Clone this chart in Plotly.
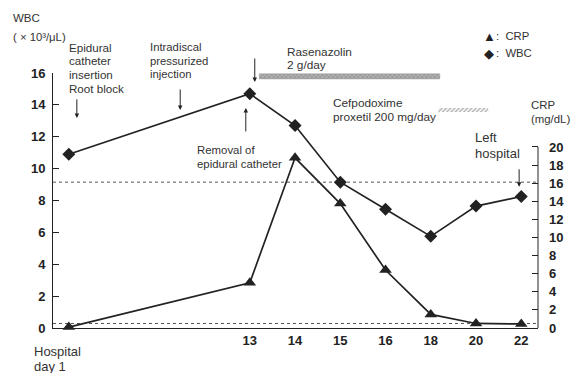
import plotly.graph_objects as go

# ---------------- data ----------------
days = ["1", "13", "14", "15", "16", "18", "20", "22"]
wbc = [10.9, 14.7, 12.7, 9.15, 7.45, 5.75, 7.65, 8.25]      # x10^3/uL (left axis)
crp = [0.1, 5.0, 18.8, 13.75, 6.4, 1.5, 0.5, 0.45]          # mg/dL (right axis)
wbc_ticks = [0, 2, 4, 6, 8, 10, 12, 14, 16]
crp_ticks = [0, 2, 4, 6, 8, 10, 12, 14, 16, 18, 20]
wbc_normal = 9.15
crp_normal = 0.5
# drug periods (in x-slot units) and bar heights (in WBC units)
drug_names = ["Rasenazolin", "Cefpodoxime"]
drug_start = [4.21, 8.17]
drug_end = [8.2, 9.27]
drug_low = [15.63, 13.56]
drug_high = [15.95, 13.81]

# ---------------- layout helpers ----------------
W, H = 576, 373
L, R, T, B = 53, 35, 73, 44.5
PW, PH = W - L - R, H - T - B
slots = [0] + [i + 3 for i in range(1, len(days))]
XR = [-0.35, 10.37]
CRP_TOP = 28.17

def px(x):
    return (x - L) / PW

def py(y):
    return (H - B - y) / PH

INK = "#222222"
TXT = "#333333"
FONT = "Liberation Sans, Arial, sans-serif"

fig = go.Figure()

# drug bars
fig.add_trace(go.Scatter(
    x=[drug_start[0], drug_end[0], drug_end[0], drug_start[0], drug_start[0]],
    y=[drug_low[0], drug_low[0], drug_high[0], drug_high[0], drug_low[0]],
    mode="lines", fill="toself", line=dict(color="#999999", width=0.5),
    fillpattern=dict(shape="x", size=3, solidity=0.4, fgcolor="#6a6a6a", bgcolor="#b0b0b0"),
    hoverinfo="skip", showlegend=False))
fig.add_trace(go.Scatter(
    x=[drug_start[1], drug_end[1], drug_end[1], drug_start[1], drug_start[1]],
    y=[drug_low[1], drug_low[1], drug_high[1], drug_high[1], drug_low[1]],
    mode="lines", fill="toself", line=dict(color="rgba(0,0,0,0)", width=0),
    fillpattern=dict(shape="/", size=3, solidity=0.45, fgcolor="#555555", bgcolor="white"),
    hoverinfo="skip", showlegend=False))

# normal range dotted lines
fig.add_trace(go.Scatter(x=XR, y=[wbc_normal, wbc_normal], mode="lines",
                         line=dict(color="#555555", width=1, dash="dot"),
                         hoverinfo="skip", showlegend=False))
fig.add_trace(go.Scatter(x=XR, y=[crp_normal, crp_normal], yaxis="y2", mode="lines",
                         line=dict(color="#555555", width=1, dash="dot"),
                         hoverinfo="skip", showlegend=False))

# series
fig.add_trace(go.Scatter(x=slots, y=wbc, mode="lines+markers", name="WBC",
                         line=dict(color=INK, width=1.7),
                         marker=dict(symbol="diamond", size=10, color=INK),
                         showlegend=False))
fig.add_trace(go.Scatter(x=slots, y=crp, yaxis="y2", mode="lines+markers", name="CRP",
                         line=dict(color=INK, width=1.7),
                         marker=dict(symbol="triangle-up", size=11, color=INK),
                         showlegend=False, cliponaxis=False))

# right axis line from 0 to 20
fig.add_shape(type="line", xref="paper", yref="y2", x0=1, x1=1, y0=0, y1=20,
              line=dict(color=INK, width=1))

ann = []

def text(x, y, s, size=11.5, anchor="left", color=TXT):
    ann.append(dict(x=px(x), y=py(y), xref="paper", yref="paper", text=s,
                    showarrow=False, xanchor=anchor, yanchor="middle", align="left",
                    borderpad=0, font=dict(family=FONT, size=size, color=color)))

def lines(x, y0, dy, rows, size):
    for i, s in enumerate(rows):
        text(x, y0 + i * dy, s, size)

def arrow(x, y_head, y_tail):
    ann.append(dict(x=px(x), y=py(y_head), xref="paper", yref="paper", text="",
                    showarrow=True, ax=0, ay=y_tail - y_head, arrowhead=2,
                    arrowsize=0.9, arrowwidth=1, arrowcolor=INK))

text(12, 18, "WBC", size=11.5)
text(12, 37, "( × 10³/μL)", size=11.3)
lines(68, 47, 13.7, ["Epidural", "catheter", "insertion", "Root block"], 11.6)
lines(150, 47, 13.5, ["Intradiscal", "pressurized", "injection"], 11.3)
lines(287, 51.7, 13.3, ["Rasenazolin", "2 g/day"], 11.8)
lines(334, 102.7, 14, ["Cefpodoxime", "proxetil 200 mg/day"], 11.8)
lines(197, 150, 14, ["Removal of", "epidural catheter"], 11.4)
lines(477, 138, 16, ["Left", "hospital"], 13)
lines(533, 105, 14, ["CRP", "(mg/dL)"], 11.4)
lines(33, 352, 15, ["Hospital", "day 1"], 13)

# legend keys
text(492, 36, "▲", size=13, anchor="center", color=INK)
text(492, 53, "◆", size=13, anchor="center", color=INK)
text(498, 36, ":\u00a0\u00a0CRP", size=11.3)
text(498, 53, ":\u00a0\u00a0WBC", size=11.3)

arrow(77, 118, 98)
arrow(181, 110, 88)
arrow(256, 82, 57)
arrow(247, 108, 133)
arrow(522, 187, 168)

TF = dict(family=FONT, size=13, color=INK)
fig.update_layout(
    width=W, height=H,
    margin=dict(l=L, r=R, t=T, b=B, pad=0),
    paper_bgcolor="white", plot_bgcolor="white",
    font=dict(family=FONT, size=11, color=INK),
    annotations=ann,
    xaxis=dict(range=XR, showgrid=False, zeroline=False, showline=True,
               linecolor=INK, linewidth=1, ticks="",
               tickvals=slots[1:], ticktext=["<b>%s</b>" % d for d in days[1:]],
               tickfont=TF),
    yaxis=dict(range=[0, 16], showgrid=False, zeroline=False, showline=True,
               linecolor=INK, linewidth=1, ticks="inside", ticklen=6,
               tickcolor=INK, tickvals=wbc_ticks, ticklabelstandoff=4,
               ticktext=["<b>%d</b>" % v for v in wbc_ticks],
               tickfont=TF),
    yaxis2=dict(range=[0, CRP_TOP], overlaying="y", side="right", anchor="x",
                showgrid=False, zeroline=False, showline=False,
                ticks="inside", ticklen=6, tickcolor=INK, tickvals=crp_ticks,
                ticklabelstandoff=10,
                ticktext=["<b>%d</b>" % v for v in crp_ticks],
                tickfont=TF),
)

fig.write_html("out.html", config={"displayModeBar": False},
               post_script="document.body.style.margin='0';document.body.style.padding='0';")
